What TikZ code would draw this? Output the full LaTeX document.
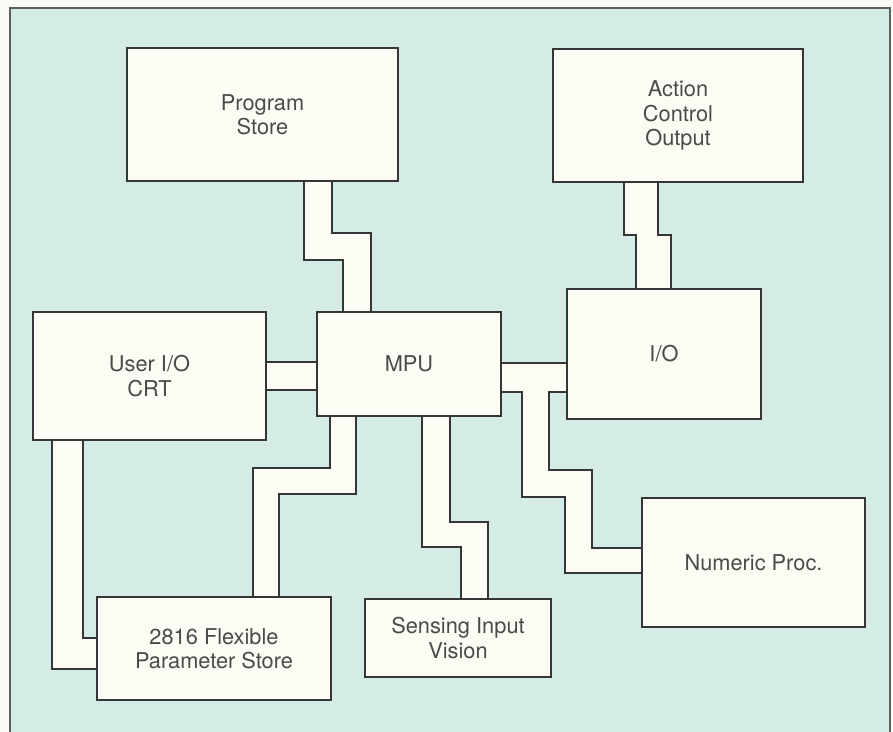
\documentclass[tikz,border=0pt]{standalone}
\usepackage{fontspec}
\setmainfont{TeX Gyre Heros}
\usetikzlibrary{positioning}
\definecolor{paper}{HTML}{FBFBF6}
\definecolor{panel}{HTML}{D5EBE6}
\definecolor{boxwhite}{HTML}{FDFCF4}
\definecolor{ink}{HTML}{363636}
\pgfdeclarelayer{panellayer}
\pgfdeclarelayer{buslayer}
\pgfsetlayers{panellayer,buslayer,main}
\tikzset{
  blk/.style={draw=ink,fill=boxwhite,line width=1.1pt,align=center,
    font=\fontsize{12.4}{13.8}\selectfont,text=ink!90,inner sep=2pt},
  busfill/.style={fill=boxwhite},
  busline/.style={draw=ink,line width=1.1pt},
  frameline/.style={draw=ink!80,line width=0.8pt},
}
\begin{document}
\begin{tikzpicture}[x=0.02cm,y=-0.02cm]
  \useasboundingbox (0,0) rectangle (893,732);
  % blocks
  \path
    (262.5,114.5) node[blk,minimum width=5.42cm,minimum height=2.66cm] (prog) {Program\\Store}
    (678,115.5)   node[blk,minimum width=5.0cm,minimum height=2.66cm] (act) {Action\\Control\\Output}
    (149.5,376)   node[blk,minimum width=4.66cm,minimum height=2.56cm] (user) {User I/O\\CRT}
    (409,364)     node[blk,minimum width=3.68cm,minimum height=2.08cm] (mpu) {MPU}
    (664,354)     node[blk,minimum width=3.88cm,minimum height=2.6cm] (io) {I/O}
    (753.5,562.5) node[blk,minimum width=4.46cm,minimum height=2.58cm] (num) {Numeric Proc.}
    (214,648.5)   node[blk,minimum width=4.68cm,minimum height=2.06cm] (flex) {2816 Flexible\\Parameter Store}
    (458,638)     node[blk,minimum width=3.72cm,minimum height=1.56cm] (sens) {Sensing Input\\Vision};
  % panel
  \begin{pgfonlayer}{panellayer}
    \fill[paper] (0,0) rectangle (893,732);
    \fill[panel] (10,8) rectangle (890,732);
    \draw[frameline] (10,732) -- (10,8) -- (890,8) -- (890,732);
  \end{pgfonlayer}
  \begin{pgfonlayer}{buslayer}
  % bus: program store -- mpu
  \fill[busfill] (304,0 |- prog.south) -- (304,260) -- (343,260) -- (343,0 |- mpu.north)
    -- (371,0 |- mpu.north) -- (371,233) -- (332,233) -- (332,0 |- prog.south) -- cycle;
  \draw[busline] (304,0 |- prog.south) -- (304,260) -- (343,260) -- (343,0 |- mpu.north);
  \draw[busline] (332,0 |- prog.south) -- (332,233) -- (371,233) -- (371,0 |- mpu.north);
  % bus: action control -- i/o
  \fill[busfill] (624,0 |- act.south) -- (624,235) -- (636,235) -- (636,0 |- io.north)
    -- (671,0 |- io.north) -- (671,235) -- (658,235) -- (658,0 |- act.south) -- cycle;
  \draw[busline] (624,0 |- act.south) -- (624,235) -- (636,235) -- (636,0 |- io.north);
  \draw[busline] (658,0 |- act.south) -- (658,235) -- (671,235) -- (671,0 |- io.north);
  % bus: user -- mpu
  \fill[busfill] (user.east |- 0,362) rectangle (mpu.west |- 0,390);
  \draw[busline] (user.east |- 0,362) -- (mpu.west |- 0,362);
  \draw[busline] (user.east |- 0,390) -- (mpu.west |- 0,390);
  % bus: mpu -- i/o, branch to numeric proc.
  \fill[busfill] (mpu.east |- 0,363) -- (io.west |- 0,363) -- (io.west |- 0,392)
    -- (549,392) -- (549,470) -- (592,470) -- (592,548) -- (num.west |- 0,548)
    -- (num.west |- 0,573) -- (565,573) -- (565,497) -- (522,497) -- (522,392)
    -- (mpu.east |- 0,392) -- cycle;
  \draw[busline] (mpu.east |- 0,363) -- (io.west |- 0,363);
  \draw[busline] (mpu.east |- 0,392) -- (522,392) -- (522,497) -- (565,497)
    -- (565,573) -- (num.west |- 0,573);
  \draw[busline] (io.west |- 0,392) -- (549,392) -- (549,470) -- (592,470)
    -- (592,548) -- (num.west |- 0,548);
  % bus: mpu -- flexible store
  \fill[busfill] (330,0 |- mpu.south) -- (330,468) -- (253,468) -- (253,0 |- flex.north)
    -- (279,0 |- flex.north) -- (279,494) -- (356,494) -- (356,0 |- mpu.south) -- cycle;
  \draw[busline] (330,0 |- mpu.south) -- (330,468) -- (253,468) -- (253,0 |- flex.north);
  \draw[busline] (356,0 |- mpu.south) -- (356,494) -- (279,494) -- (279,0 |- flex.north);
  % bus: mpu -- sensing
  \fill[busfill] (422,0 |- mpu.south) -- (422,547) -- (461,547) -- (461,0 |- sens.north)
    -- (488,0 |- sens.north) -- (488,522) -- (450,522) -- (450,0 |- mpu.south) -- cycle;
  \draw[busline] (422,0 |- mpu.south) -- (422,547) -- (461,547) -- (461,0 |- sens.north);
  \draw[busline] (450,0 |- mpu.south) -- (450,522) -- (488,522) -- (488,0 |- sens.north);
  % bus: user -- flexible store
  \fill[busfill] (52,0 |- user.south) -- (52,669) -- (flex.west |- 0,669)
    -- (flex.west |- 0,638) -- (83,638) -- (83,0 |- user.south) -- cycle;
  \draw[busline] (52,0 |- user.south) |- (flex.west |- 0,669);
  \draw[busline] (83,0 |- user.south) |- (flex.west |- 0,638);
  \end{pgfonlayer}
\end{tikzpicture}
\end{document}
